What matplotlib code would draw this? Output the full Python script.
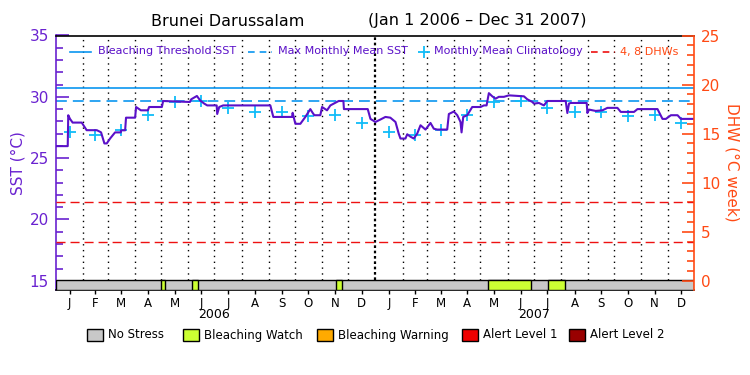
import matplotlib
matplotlib.use('Agg')
import matplotlib.pyplot as plt
import numpy as np
import pandas as pd
from matplotlib.patches import Rectangle
from matplotlib.lines import Line2D
import matplotlib.transforms as mtransforms

plt.rcParams['font.family'] = ['DejaVu Sans']

# ---------------- data ----------------
title_left = "Brunei Darussalam"
title_right = "(Jan 1 2006 \u2013 Dec 31 2007)"
period_start = pd.Timestamp('2006-01-01')
period_end = pd.Timestamp('2008-01-01')

# daily SST (days since 2006-01-01, value in deg C)
sst_day = [0, 13.4, 14, 16, 19, 29.4, 35, 46.6, 50.3, 51.5,
           55.3, 58, 61.8, 67.5, 74, 74.4, 79, 80, 90.4, 91.5,
           97, 105, 106.4, 121, 122.4, 153, 154.5, 161, 164.8, 169.3,
           172.8, 183.6, 184.2, 186.5, 191, 244.9, 248.3, 269.7, 270.4, 273.5,
           279.2, 284.9, 290.6, 293.2, 295.2, 302, 304, 309.7, 313.5, 323,
           328.4, 329, 356.2, 359.3, 365, 370.7, 376.4, 382, 387.9, 391.6,
           393.6, 399.3, 401.3, 405, 408.8, 412.7, 416.5, 422.2, 427.9, 431.7,
           435.6, 447, 448.9, 454.6, 458.5, 462.2, 463.4, 465.3, 469.9, 475.6,
           485.1, 488.9, 492, 494.6, 498.5, 502.3, 506, 511.8, 517.5, 534.7,
           538.5, 544.3, 546.1, 551.8, 557.5, 561.4, 582.4, 584.3, 586.2, 588.1,
           606.4, 607.2, 609, 616.7, 624.4, 630.1, 641.5, 645.3, 660.5, 664.4,
           687.3, 693, 696.9, 702.6, 710.2, 714, 730]
sst_val = [25.98, 25.98, 28.5, 28.2, 27.9, 27.9, 27.28, 27.28, 27.15, 27.1,
           26.2, 26.2, 26.6, 27.1, 27.1, 27.27, 27.27, 28.3, 28.3, 29.17,
           28.9, 28.9, 29.17, 29.17, 29.66, 29.58, 29.8, 30.07, 29.7, 29.45,
           29.3, 29.3, 28.6, 29.17, 29.3, 29.3, 28.36, 28.36, 28.7, 27.8,
           27.8, 28.36, 29.0, 28.7, 28.5, 28.5, 29.17, 28.9, 29.3, 29.66,
           29.66, 29.0, 29.0, 28.2, 27.95, 28.15, 28.36, 28.3, 27.95, 27.0,
           26.6, 26.6, 26.95, 26.75, 26.6, 27.0, 27.68, 27.33, 27.87, 27.4,
           27.33, 27.33, 28.6, 28.8, 28.5, 27.95, 27.1, 28.36, 28.5, 29.17,
           29.17, 29.3, 29.3, 30.3, 30.04, 29.85, 30.0, 30.0, 30.12, 30.04,
           29.8, 29.58, 29.45, 29.5, 29.3, 29.66, 29.66, 28.68, 29.45, 29.5,
           29.5, 28.68, 28.96, 28.85, 28.9, 29.1, 29.1, 28.77, 28.77, 29.0,
           29.0, 28.2, 28.2, 28.5, 28.5, 28.2, 28.2]

# monthly mean climatology (Jan..Dec)
clim_val = [27.1, 26.9, 27.3, 28.5, 29.6, 29.65, 29.05, 28.8, 28.8, 28.45, 28.5, 27.85]
mmm_sst = 29.7
threshold_sst = 30.7
dhw_levels = [4, 8]

month_letters = ['J', 'F', 'M', 'A', 'M', 'J', 'J', 'A', 'S', 'O', 'N', 'D']
year_labels = ['2006', '2007']

# stress periods
stress_start = ['2006-05-01', '2006-06-05', '2006-11-17', '2007-05-10', '2007-07-17']
stress_end = ['2006-05-06', '2006-06-12', '2006-11-24', '2007-06-28', '2007-08-06']
stress_level = [1, 1, 1, 1, 1]

stress_names = ['No Stress', 'Bleaching Watch', 'Bleaching Warning', 'Alert Level 1', 'Alert Level 2']
stress_colors = ['#c8c8c8', '#ccff33', '#ffaa00', '#ee0000', '#990000']

# ---------------- styles ----------------
PURPLE = '#5a10c8'
AXPURPLE = '#6a22d0'
BLUE = '#0a96f0'
CYAN = '#10bcf8'
RED = '#ee1111'
ORANGE = '#ff4a14'

def dnum(s):
    return (pd.Timestamp(s) - period_start).days

fig = plt.figure(figsize=(7.5, 3.75), dpi=100)
ax = fig.add_axes([56/750, 1-290/375, (694-56)/750, (290-35.5)/375])
ymin, ymax = 14.25, 35.0
total_days = (period_end - period_start).days
ax.set_xlim(0, total_days - 1)
ax.set_ylim(ymin, ymax)

# month boundaries
month_starts = pd.date_range(period_start, period_end, freq='MS')
ms_days = np.array([(m - period_start).days for m in month_starts])
mid_days = (ms_days[:-1] + ms_days[1:]) / 2.0

for m, d in zip(month_starts[1:-1], ms_days[1:-1]):
    if m.month == 1:
        ax.vlines(d, 15.05, ymax, colors='black', linestyles=(0, (1.2, 1.2)), linewidth=1.6, zorder=1)
    else:
        ax.vlines(d, 15.05, ymax, colors='black', linestyles=(0, (1, 3.2)), linewidth=1.0, zorder=1)

# threshold & MMM
ax.axhline(threshold_sst, color=BLUE, lw=1.2, zorder=2)
ax.axhline(mmm_sst, color=BLUE, lw=1.2, ls=(0, (6.5, 3.6)), zorder=2)

# DHW lines on right axis
ax2 = ax.twinx()
ax2.set_ylim((ymin - 15) * 1.25, (ymax - 15) * 1.25)
for lv in dhw_levels:
    ax2.axhline(lv, color=RED, lw=1.0, ls=(0, (6.5, 3.6)), zorder=2)

# climatology
clim_x = mid_days
clim_y = clim_val * 2
ax.plot(clim_x, clim_y, ls='none', marker='+', ms=8, mew=1.3, color=CYAN, zorder=3)

# SST
ax.plot(sst_day, sst_val, color=PURPLE, lw=1.5, zorder=4)

# stress bar
ax.add_patch(Rectangle((0, ymin), total_days - 1, 15.07 - ymin, facecolor=stress_colors[0],
                       edgecolor='black', lw=1.0, zorder=5))
for s, e, lv in zip(stress_start, stress_end, stress_level):
    ax.add_patch(Rectangle((dnum(s), ymin), dnum(e) - dnum(s), 15.07 - ymin,
                           facecolor=stress_colors[lv], edgecolor='black', lw=1.0, zorder=6))

# axes styling
ax.set_yticks([15, 20, 25, 30, 35])
ax.set_yticks(np.arange(15, 36, 1), minor=True)
ax.tick_params(axis='y', which='major', direction='in', length=9, width=1.2, colors=AXPURPLE,
               labelsize=11, pad=5, left=True, right=False)
ax.tick_params(axis='y', which='minor', direction='in', length=5, width=1.2, colors=AXPURPLE,
               left=True, right=False)
ax.set_xticks(mid_days)
ax.set_xticklabels(month_letters * 2)
ax.tick_params(axis='x', which='major', direction='out', length=3, width=1, colors='black',
               labelsize=8.5, pad=2)
ax.spines['left'].set_color(AXPURPLE)
ax.spines['left'].set_linewidth(1.2)
ax.spines['right'].set_visible(False)
ax2.spines['left'].set_visible(False)
ax2.spines['right'].set_color(ORANGE)
ax2.spines['right'].set_linewidth(1.2)
ax2.spines['top'].set_visible(False)
ax2.spines['bottom'].set_visible(False)
ax.spines['top'].set_linewidth(1.2)
ax.spines['bottom'].set_linewidth(1.2)

ax2.set_yticks([0, 5, 10, 15, 20, 25])
ax2.set_yticks(np.arange(0, 26, 1), minor=True)
ax2.tick_params(axis='y', which='major', direction='in', length=9, width=1.2, colors=ORANGE,
                labelsize=11, pad=5, left=False, right=True)
ax2.tick_params(axis='y', which='minor', direction='in', length=5, width=1.2, colors=ORANGE,
                left=False, right=True)

ax.set_ylabel('SST (\u00b0C)', color=AXPURPLE, fontsize=11)
ax.yaxis.set_label_coords(-0.048, 0.5)
ax2.set_ylabel('DHW (\u00b0C week)', color=ORANGE, fontsize=11, rotation=270, va='center')
ax2.yaxis.set_label_coords(1.06, 0.5)

# year labels
trans = mtransforms.blended_transform_factory(ax.transData, fig.transFigure)
for i, yl in enumerate(year_labels):
    ax.text(mid_days[i * 12 + 5] + 15, 1 - 315/375, yl, transform=trans, ha='center', va='center',
            fontsize=9)

# title
fig.text(228/750, 1 - 21/375, title_left, ha='center', va='center', fontsize=11.5)
fig.text(477/750, 1 - 21/375, title_right, ha='center', va='center', fontsize=11.5)

# in-plot legend (figure coords)
ly = 1 - 51.5/375
leg = [
    ('line', BLUE, '-', 'Bleaching Threshold SST', PURPLE, 70, 91, 98),
    ('line', BLUE, (0, (4, 3)), 'Max Monthly Mean SST', PURPLE, 248, 272, 278),
    ('plus', CYAN, None, 'Monthly Mean Climatology', PURPLE, 424, 424, 434),
    ('line', RED, (0, (4, 3)), '4, 8 DHWs', ORANGE, 591, 615, 620),
]
for kind, c, ls, lab, tc, x0, x1, xt in leg:
    if kind == 'line':
        fig.add_artist(Line2D([x0/750, x1/750], [ly, ly], color=c, ls=ls, lw=1.2, transform=fig.transFigure))
    else:
        fig.add_artist(Line2D([x0/750], [ly], color=c, marker='+', ms=8, mew=1.3, ls='none',
                              transform=fig.transFigure))
    fig.text(xt/750, ly, lab, color=tc, fontsize=8, ha='left', va='center')

# bottom legend
by = 1 - 335/375
box_x = [87, 183, 317, 462, 569]
for bx, name, col in zip(box_x, stress_names, stress_colors):
    fig.add_artist(Rectangle((bx/750, by - 6/375), 16/750, 12/375, facecolor=col, edgecolor='black',
                             lw=1.0, transform=fig.transFigure))
    fig.text((bx + 21)/750, by, name, fontsize=8.5, ha='left', va='center')

fig.savefig('out.png', dpi=100)
